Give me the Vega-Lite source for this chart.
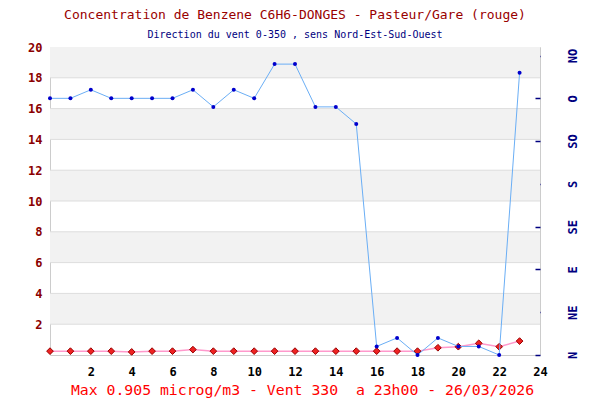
{
  "$schema": "https://vega.github.io/schema/vega-lite/v6.json",
  "autosize": {"type": "none"},
  "width": 490,
  "height": 308,
  "padding": {"left": 50, "top": 47, "right": 60, "bottom": 45},
  "background": "white",
  "config": {
    "view": {"stroke": "#cccccc"},
    "font": "DejaVu Sans Mono",
    "axis": {"labelOverlap": false, "labelFlush": false, "labelBound": false}
  },
  "title": {
    "text": "Concentration de Benzene C6H6-DONGES - Pasteur/Gare (rouge)",
    "subtitle": "Direction du vent 0-350 , sens Nord-Est-Sud-Ouest",
    "font": "DejaVu Sans Mono",
    "fontSize": 13,
    "fontWeight": "normal",
    "color": "#990000",
    "subtitleFont": "DejaVu Sans Mono",
    "subtitleFontSize": 10,
    "subtitleColor": "#000080",
    "subtitlePadding": 8,
    "offset": 1,
    "anchor": "middle"
  },
  "datasets": {
    "bands": [
      {"lo": 18, "hi": 20}, {"lo": 14, "hi": 16}, {"lo": 10, "hi": 12}, {"lo": 6, "hi": 8}, {"lo": 2, "hi": 4}
    ],
    "grille": [{"g": 2}, {"g": 4}, {"g": 6}, {"g": 8}, {"g": 10}, {"g": 12}, {"g": 14}, {"g": 16}, {"g": 18}],
    "mesures": [
      {"heure": 0, "benzene": 0.25, "dir": 300},
      {"heure": 1, "benzene": 0.25, "dir": 300},
      {"heure": 2, "benzene": 0.25, "dir": 310},
      {"heure": 3, "benzene": 0.25, "dir": 300},
      {"heure": 4, "benzene": 0.2, "dir": 300},
      {"heure": 5, "benzene": 0.25, "dir": 300},
      {"heure": 6, "benzene": 0.25, "dir": 300},
      {"heure": 7, "benzene": 0.35, "dir": 310},
      {"heure": 8, "benzene": 0.25, "dir": 290},
      {"heure": 9, "benzene": 0.25, "dir": 310},
      {"heure": 10, "benzene": 0.25, "dir": 300},
      {"heure": 11, "benzene": 0.25, "dir": 340},
      {"heure": 12, "benzene": 0.25, "dir": 340},
      {"heure": 13, "benzene": 0.25, "dir": 290},
      {"heure": 14, "benzene": 0.25, "dir": 290},
      {"heure": 15, "benzene": 0.25, "dir": 270},
      {"heure": 16, "benzene": 0.25, "dir": 10},
      {"heure": 17, "benzene": 0.25, "dir": 20},
      {"heure": 18, "benzene": 0.25, "dir": 0},
      {"heure": 19, "benzene": 0.47, "dir": 20},
      {"heure": 20, "benzene": 0.54, "dir": 10},
      {"heure": 21, "benzene": 0.76, "dir": 10},
      {"heure": 22, "benzene": 0.54, "dir": 0},
      {"heure": 23, "benzene": 0.905, "dir": 330}
    ]
  },
  "layer": [
    {
      "layer": [
        {
          "data": {"name": "bands"},
          "mark": {"type": "rect", "fill": "#f2f2f2"},
          "encoding": {
            "y": {"field": "lo", "type": "quantitative", "scale": {"domain": [0, 20], "nice": false},
              "axis": {"values": [2, 4, 6, 8, 10, 12, 14, 16, 18, 20], "grid": false, "ticks": false, "domain": false,
                "labelOverlap": false, "labelFlush": false, "labelBound": false,
                "labelFont": "DejaVu Sans Mono", "labelFontWeight": "bold", "labelFontSize": 12, "labelColor": "#8b0000", "labelPadding": 8, "title": null}},
            "y2": {"field": "hi"}
          }
        },
        {
          "data": {"name": "grille"},
          "mark": {"type": "rule", "color": "#dddddd", "strokeWidth": 1},
          "encoding": {
            "y": {"field": "g", "type": "quantitative",
              "axis": {"values": [2, 4, 6, 8, 10, 12, 14, 16, 18, 20], "grid": false, "ticks": false, "domain": false,
                "labelOverlap": false, "labelFlush": false, "labelBound": false,
                "labelFont": "DejaVu Sans Mono", "labelFontWeight": "bold", "labelFontSize": 12, "labelColor": "#8b0000", "labelPadding": 8, "title": null}}
          }
        },
        {
          "data": {"name": "mesures"},
          "mark": {"type": "line", "color": "#ff99cc", "strokeWidth": 1.5},
          "encoding": {
            "x": {"field": "heure", "type": "quantitative", "scale": {"domain": [0, 24], "nice": false},
              "axis": {"values": [2, 4, 6, 8, 10, 12, 14, 16, 18, 20, 22, 24], "grid": false, "ticks": false, "domain": false,
                "labelOverlap": false, "labelFlush": false, "labelBound": false,
                "labelFont": "DejaVu Sans Mono", "labelFontWeight": "bold", "labelFontSize": 12, "labelColor": "#000000", "labelPadding": 11,
                "title": "Max 0.905 microg/m3 - Vent 330 \u00a0a 23h00 - 26/03/2026",
                "titleFont": "DejaVu Sans Mono", "titleFontSize": 14.8, "titleFontWeight": "normal", "titleColor": "#ff0000", "titlePadding": 5, "titleX": 252}},
            "y": {"field": "benzene", "type": "quantitative",
              "axis": {"values": [2, 4, 6, 8, 10, 12, 14, 16, 18, 20], "grid": false, "ticks": false, "domain": false,
                "labelOverlap": false, "labelFlush": false, "labelBound": false,
                "labelFont": "DejaVu Sans Mono", "labelFontWeight": "bold", "labelFontSize": 12, "labelColor": "#8b0000", "labelPadding": 8, "title": null}}
          }
        },
        {
          "data": {"name": "mesures"},
          "mark": {"type": "point", "shape": "diamond", "filled": true, "fill": "#ee2222", "stroke": "#990000", "strokeWidth": 1, "size": 45, "opacity": 1},
          "encoding": {
            "x": {"field": "heure", "type": "quantitative"},
            "y": {"field": "benzene", "type": "quantitative",
              "axis": {"values": [2, 4, 6, 8, 10, 12, 14, 16, 18, 20], "grid": false, "ticks": false, "domain": false,
                "labelOverlap": false, "labelFlush": false, "labelBound": false,
                "labelFont": "DejaVu Sans Mono", "labelFontWeight": "bold", "labelFontSize": 12, "labelColor": "#8b0000", "labelPadding": 8, "title": null}}
          }
        }
      ]
    },
    {
      "data": {"name": "mesures"},
      "layer": [
        {
          "mark": {"type": "line", "color": "#6aaef5", "strokeWidth": 1},
          "encoding": {
            "x": {"field": "heure", "type": "quantitative"},
            "y": {"field": "dir", "type": "quantitative", "scale": {"domain": [0, 360], "nice": false},
              "axis": {"orient": "right", "values": [0, 50, 100, 150, 200, 250, 300, 350], "grid": false, "domain": false,
                "ticks": true, "tickSize": -5, "tickColor": "#000080", "tickWidth": 1.5,
                "labelExpr": "['N','NE','E','SE','S','SO','O','NO'][round(datum.value/50)]",
                "labelAngle": 270, "labelAlign": "center", "labelBaseline": "middle", "labelPadding": 37,
                "labelFont": "DejaVu Sans Mono", "labelFontWeight": "bold", "labelFontSize": 12, "labelColor": "#000080",
                "labelOverlap": false, "labelBound": false, "labelFlush": false, "title": null}}
          }
        },
        {
          "mark": {"type": "circle", "color": "#0000cc", "size": 16, "opacity": 1},
          "encoding": {
            "x": {"field": "heure", "type": "quantitative"},
            "y": {"field": "dir", "type": "quantitative"}
          }
        }
      ]
    }
  ],
  "resolve": {"scale": {"y": "independent"}}
}
